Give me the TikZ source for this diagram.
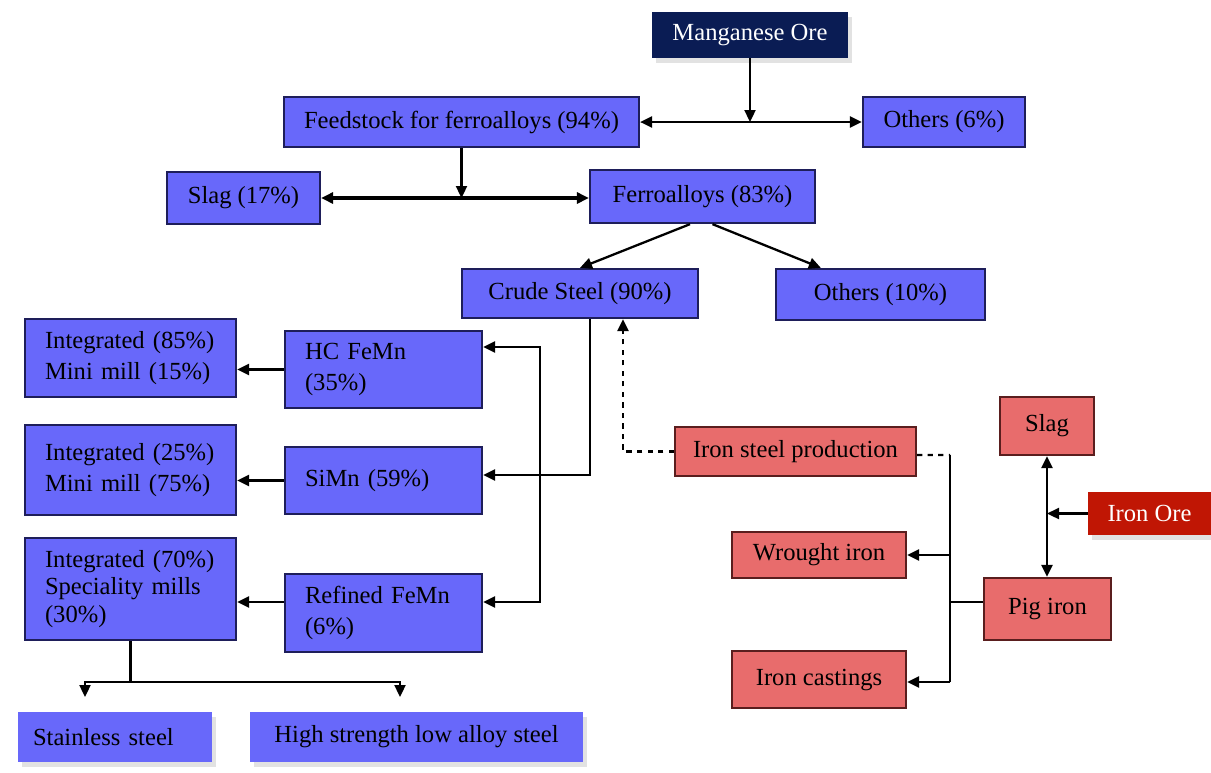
\documentclass[tikz,border=0pt]{standalone}
\usepackage{fontspec}
\setmainfont{Liberation Serif}
\usepackage{tikz}
\usetikzlibrary{arrows.meta, shadows, calc}
\tikzset{
	bluebox/.style={draw=boxline, line width=1.3pt, fill=boxblue, inner xsep=0.4cm, inner ysep=2pt, font=\fontsize{14}{18}\selectfont, minimum height=1cm},
	redbox/.style={draw=redline, line width=1.3pt, fill=boxred, inner sep=2pt, font=\fontsize{14}{18}\selectfont, minimum height=1cm},
	leftbox/.style={align=left, text width=#1},
	halo/.style={drop shadow={shadow xshift=0.08cm, shadow yshift=-0.1cm, fill=black!22}},
	flow/.style={line width=1.3pt, -{Triangle[length=2.4mm, width=2.2mm]}},
	twoway/.style={line width=1.3pt, {Triangle[length=2.4mm, width=2.2mm]}-{Triangle[length=2.4mm, width=2.2mm]}}
}
\begin{document}
\begin{tikzpicture}[x=0.02cm, y=-0.02cm]
	\definecolor{boxblue}{RGB}{104,104,250}
	\definecolor{boxline}{RGB}{30,30,90}
	\definecolor{boxred}{RGB}{232,108,108}
	\definecolor{redline}{RGB}{90,30,30}
	\definecolor{orenavy}{RGB}{10,28,84}
	\definecolor{orered}{RGB}{192,22,4}
	\useasboundingbox[fill=white] (0,0) rectangle (1211,772);
	\node (ore) at (750,35) [halo, fill=orenavy, text=white, font=\fontsize{14}{18}\selectfont, minimum width=3.92cm, minimum height=0.92cm] {Manganese Ore};
	\node (feed) at (461.5,122) [bluebox, minimum width=6.98cm] {Feedstock for ferroalloys (94\%)};
	\node (oth6) at (944,122) [bluebox, inner xsep=2pt, minimum width=3.24cm] {Others (6\%)};
	\node (slag17) at (243.5,198) [bluebox, inner xsep=2pt, minimum width=3.06cm, minimum height=1.04cm] {Slag (17\%)};
	\node (ferro) at (702.5,196.5) [bluebox, minimum width=4.5cm, minimum height=1.06cm] {Ferroalloys (83\%)};
	\node (crude) at (580,293.5) [bluebox, minimum width=4.72cm, minimum height=0.98cm] {Crude Steel (90\%)};
	\node (oth10) at (880.5,294.5) [bluebox, minimum width=4.18cm, minimum height=1.02cm] {Others (10\%)};
	\node (int85) at (130.5,358) [bluebox, leftbox=3.42cm, minimum height=1.56cm] {Integrated (85\%)\\Mini mill (15\%)};
	\node (int25) at (130.5,470) [bluebox, leftbox=3.42cm, minimum height=1.8cm] {Integrated (25\%)\\Mini mill (75\%)};
	\node (int70) at (130.5,589) [bluebox, leftbox=3.42cm, minimum height=2.04cm, font=\fontsize{14}{15.5}\selectfont] {Integrated (70\%)\\Speciality mills\\(30\%)};
	\node (hc) at (383.5,369.5) [bluebox, leftbox=3.14cm, minimum height=1.54cm] {HC FeMn\\(35\%)};
	\node (simn) at (383.5,480.5) [bluebox, leftbox=3.14cm, minimum height=1.34cm] {SiMn (59\%)};
	\node (ref) at (383.5,613) [bluebox, leftbox=3.14cm, minimum height=1.56cm] {Refined FeMn\\(6\%)};
	\node (stain) at (115,737) [bluebox, halo, draw=none, inner xsep=0.3cm, leftbox=3.28cm] {Stainless steel};
	\node (hsla) at (416.5,737) [bluebox, halo, draw=none, inner xsep=2pt, minimum width=6.66cm] {High strength low alloy steel};
	\node (isp) at (795.5,451.5) [redbox, minimum width=4.82cm, minimum height=0.98cm] {Iron steel production};
	\node (wrought) at (819,555) [redbox, minimum width=3.48cm, minimum height=0.92cm] {Wrought iron};
	\node (cast) at (819,679.5) [redbox, minimum width=3.48cm, minimum height=1.14cm] {Iron castings};
	\node (pig) at (1047.5,609) [redbox, minimum width=2.54cm, minimum height=1.24cm] {Pig iron};
	\node (slag) at (1047,426) [redbox, minimum width=1.88cm, minimum height=1.16cm] {Slag};
	\node (ironore) at (1149.5,513.5) [halo, fill=orered, text=white, font=\fontsize{14}{18}\selectfont, minimum width=2.46cm, minimum height=0.86cm] {Iron Ore};
	\draw[flow] (ore.south) -- (ore.south |- feed.east);
	\draw[twoway] (feed.east) -- (oth6.west);
	\draw[flow] (feed.south) -- (feed.south |- slag17.east);
	\draw[twoway, line width=2.2pt] (slag17.east) -- (slag17.east -| ferro.west);
	\draw[flow] ([xshift=-0.25cm]ferro.south) -- (crude.north);
	\draw[flow] ([xshift=0.2cm]ferro.south) -- ([xshift=0.92cm]oth10.north west);
	\draw[flow] ([xshift=0.2cm]crude.south) |- ([yshift=0.11cm]simn.east);
	\coordinate (mnsplit) at (540,475);
	\draw[flow] (mnsplit) |- ([yshift=0.45cm]hc.east);
	\draw[flow] (mnsplit) |- ([yshift=0.22cm]ref.east);
	\draw[flow] (hc.west) -- (hc.west -| int85.east);
	\draw[flow] (simn.west) -- (simn.west -| int25.east);
	\draw[flow] ([yshift=0.22cm]ref.west) -- ([yshift=0.22cm]ref.west -| int70.east);
	\coordinate (fork) at (130.5,682);
	\coordinate (stainin) at (85,697);
	\coordinate (hslain) at (400,697);
	\draw[line width=1.3pt] (int70.south) -- (fork);
	\draw[flow] (fork) -| (stainin);
	\draw[flow] (fork) -| (hslain);
	\draw[flow, dashed] (isp.west) -| ([xshift=0.86cm]crude.south);
	\coordinate (bustop) at (950,455);
	\coordinate (busbot) at (950,682);
	\draw[line width=1.3pt, dashed] ([yshift=-0.07cm]isp.east) -- (bustop);
	\draw[line width=1.3pt] (bustop) -- (busbot);
	\draw[line width=1.3pt] ([yshift=0.14cm]pig.west) -- ([yshift=0.14cm]pig.west -| bustop);
	\draw[flow] (bustop |- wrought.east) -- (wrought.east);
	\draw[flow] (busbot) -- (busbot -| cast.east);
	\draw[twoway] (slag.south) -- (slag.south |- pig.north);
	\draw[flow] (ironore.west) -- (ironore.west -| slag.south);
\end{tikzpicture}
\end{document}
